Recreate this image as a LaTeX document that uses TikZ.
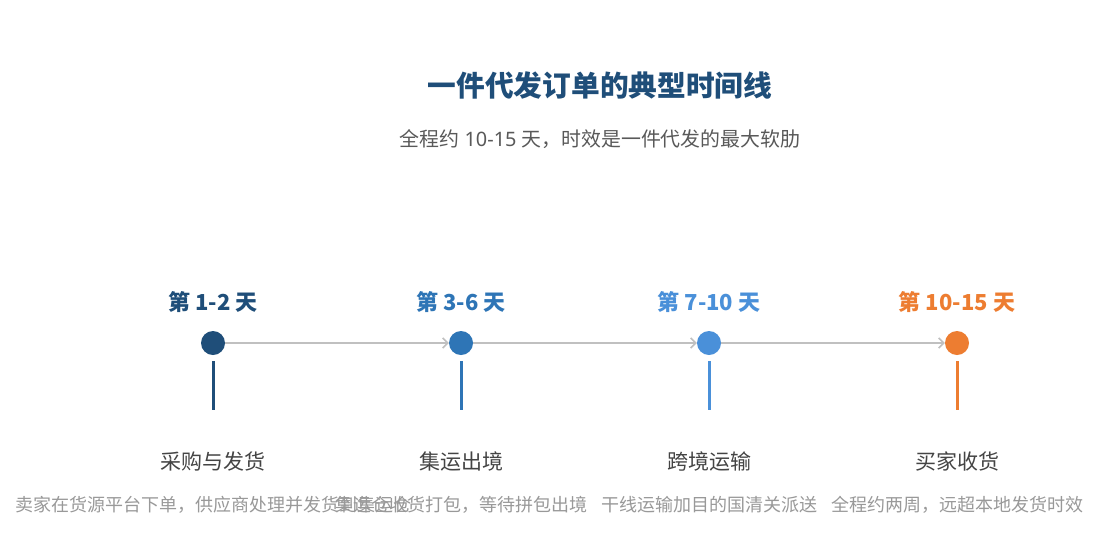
\documentclass[tikz,border=0pt]{standalone}
\usepackage{fontspec}
\setmainfont{Noto Sans CJK SC}
\newfontfamily\latinfont{Noto Sans}
\usetikzlibrary{arrows.meta}
\definecolor{cA}{HTML}{1F4E79}
\definecolor{cB}{HTML}{2E75B6}
\definecolor{cC}{HTML}{4A90D9}
\definecolor{cD}{HTML}{ED7D31}
\definecolor{subgray}{HTML}{595959}
\definecolor{stagegray}{HTML}{444444}
\definecolor{descgray}{HTML}{999999}
\definecolor{arrowgray}{HTML}{C0C0C0}
\newcommand{\lat}[1]{{\latinfont #1}}
\tikzset{
  titletext/.style={inner sep=0pt, font=\fontsize{28.7}{34}\selectfont\bfseries, text=cA},
  subtext/.style={inner sep=0pt, font=\fontsize{19.9}{24}\selectfont, text=subgray},
  daytext/.style={inner sep=0pt, font=\fontsize{22}{26}\selectfont\bfseries},
  dotnode/.style={circle, inner sep=0pt, minimum size=24pt, draw=none},
  stemline/.style={line width=3pt},
  conn/.style={draw=arrowgray, line width=2.6pt, -{Straight Barb[length=5pt,width=10pt,line width=1.6pt]}},
  stagetext/.style={inner sep=0pt, font=\fontsize{21}{25}\selectfont, text=stagegray},
  desctext/.style={inner sep=0pt, font=\fontsize{18}{22}\selectfont, text=descgray}
}
\begin{document}
\begin{tikzpicture}[x=1pt,y=-1pt]
\useasboundingbox[fill=white] (0,0) rectangle (1110,555);
\node[titletext] (title) at (600,85) {一件代发订单的典型时间线};
\node[subtext] (sub) at (600,139) {全程约\lat{ 10-15 }天，时效是一件代发的最大软肋};

\node[daytext, text=cA] (day1) at (213,302) {第 1-2 天};
\node[daytext, text=cB] (day2) at (461,302) {第 3-6 天};
\node[daytext, text=cC] (day3) at (709,302) {第 7-10 天};
\node[daytext, text=cD] (day4) at (957,302) {第 10-15 天};

\node[dotnode, fill=cA] (d1) at (213,343) {};
\node[dotnode, fill=cB] (d2) at (461,343) {};
\node[dotnode, fill=cC] (d3) at (709,343) {};
\node[dotnode, fill=cD] (d4) at (957,343) {};

\draw[conn] (d1) -- (d2);
\draw[conn] (d2) -- (d3);
\draw[conn] (d3) -- (d4);

\coordinate (s1t) at (213,361); \coordinate (s1b) at (213,410);
\coordinate (s2t) at (461,361); \coordinate (s2b) at (461,410);
\coordinate (s3t) at (709,361); \coordinate (s3b) at (709,410);
\coordinate (s4t) at (957,361); \coordinate (s4b) at (957,410);
\draw[stemline, cA] (s1t) -- (s1b);
\draw[stemline, cB] (s2t) -- (s2b);
\draw[stemline, cC] (s3t) -- (s3b);
\draw[stemline, cD] (s4t) -- (s4b);

\node[stagetext] (st1) at (213,461) {采购与发货};
\node[stagetext] (st2) at (461,461) {集运出境};
\node[stagetext] (st3) at (709,461) {跨境运输};
\node[stagetext] (st4) at (957,461) {买家收货};

\node[desctext] (de1) at (213,505) {卖家在货源平台下单，供应商处理并发货到集运仓};
\node[desctext] (de2) at (461,505) {集运仓收货打包，等待拼包出境};
\node[desctext] (de3) at (709,505) {干线运输加目的国清关派送};
\node[desctext] (de4) at (957,505) {全程约两周，远超本地发货时效};
\end{tikzpicture}
\end{document}
